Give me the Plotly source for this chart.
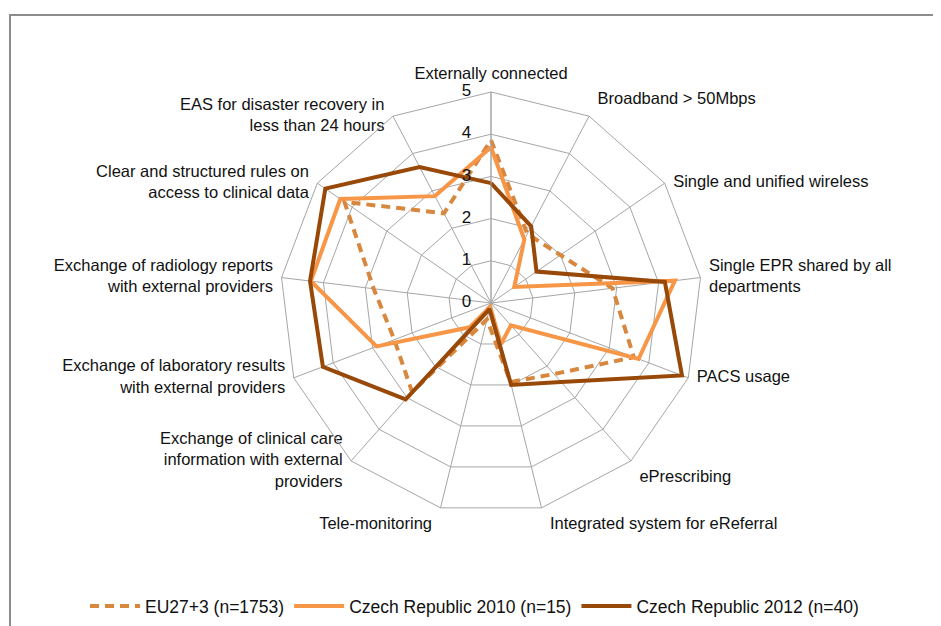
import plotly.graph_objects as go

categories = [
    "Externally connected",
    "Broadband > 50Mbps",
    "Single and unified wireless",
    "Single EPR shared by all<br>departments",
    "PACS usage",
    "ePrescribing",
    "Integrated system for eReferral",
    "Tele-monitoring",
    "Exchange of clinical care<br>information with external<br>providers",
    "Exchange of laboratory results<br>with external providers",
    "Exchange of radiology reports<br>with external providers",
    "Clear and structured rules on<br>access to clinical data",
    "EAS for disaster recovery in<br>less than 24 hours",
]

eu27 = [3.86, 1.85, 2.0, 2.9, 3.62, 2.25, 1.93, 0.4, 2.82, 2.45, 2.8, 4.22, 2.4]
cz2010 = [3.69, 1.7, 0.67, 4.39, 3.74, 0.71, 1.0, 0.1, 0.77, 2.9, 4.3, 4.34, 2.86]
cz2012 = [2.84, 2.05, 1.31, 4.15, 4.84, 2.5, 2.0, 0.15, 3.05, 4.26, 4.32, 4.77, 3.64]

series_names = ["EU27+3 (n=1753)", "Czech Republic 2010 (n=15)", "Czech Republic 2012 (n=40)"]
radial_ticks = [0, 1, 2, 3, 4, 5]
r_max = 5

label_positions = [
    "top center", "top right", "middle right", "middle right", "middle right",
    "bottom right", "bottom right", "bottom left", "middle left", "middle left",
    "middle left", "middle left", "middle left",
]

colors = ["#D8873F", "#F79646", "#984807"]
dashes = ["9px,6px", "solid", "solid"]

fig = go.Figure()
for name, vals, col, dash in zip(series_names, [eu27, cz2010, cz2012], colors, dashes):
    fig.add_trace(go.Scatterpolar(
        r=vals + vals[:1],
        theta=categories + categories[:1],
        mode="lines",
        name=name,
        line=dict(color=col, width=4, dash=dash),
    ))

# category labels around the outer ring
fig.add_trace(go.Scatterpolar(
    r=[r_max] * len(categories), theta=categories,
    mode="markers+text", text=categories, textposition=label_positions,
    marker=dict(size=12, opacity=0), cliponaxis=False,
    textfont=dict(family="Arial, Liberation Sans, sans-serif", size=16.5, color="#111111"),
    showlegend=False, hoverinfo="skip",
))

# radial tick labels, left of the vertical spoke (tiny epsilon so the 0 label is kept)
fig.add_trace(go.Scatterpolar(
    r=[max(t, 1e-3) for t in radial_ticks], theta=[categories[0]] * len(radial_ticks),
    mode="markers+text", text=[str(t) for t in radial_ticks], textposition="middle left",
    marker=dict(size=30, opacity=0), cliponaxis=False,
    textfont=dict(family="Arial, Liberation Sans, sans-serif", size=17, color="#111111"),
    showlegend=False, hoverinfo="skip",
))

# page has an 8px body margin; size figure to the remaining viewport
W, H = 933, 618
cx, cy, R = 483, 295, 211

fig.update_layout(
    width=W, height=H,
    margin=dict(l=0, r=0, t=0, b=0, autoexpand=False),
    paper_bgcolor="white",
    plot_bgcolor="white",
    font=dict(family="Arial, Liberation Sans, sans-serif", size=16, color="#111111"),
    polar=dict(
        domain=dict(x=[(cx - R) / W, (cx + R) / W], y=[(H - cy - R) / H, (H - cy + R) / H]),
        bgcolor="white",
        gridshape="linear",
        angularaxis=dict(
            rotation=90, direction="clockwise",
            gridcolor="#A6A6A6", linecolor="#A6A6A6", gridwidth=1, linewidth=1,
            showticklabels=False, ticks="",
        ),
        radialaxis=dict(
            range=[0, r_max], tickvals=radial_ticks, angle=90,
            gridcolor="#A6A6A6", linecolor="#A6A6A6", showline=True,
            showticklabels=False, ticks="",
        ),
    ),
    legend=dict(
        orientation="h", x=0.5, xanchor="center", y=(H - 598) / H, yanchor="middle",
        font=dict(size=17.5, color="#111111"), itemwidth=50,
    ),
    showlegend=True,
    shapes=[dict(
        type="rect", xref="paper", yref="paper",
        x0=2 / W, x1=1.02, y0=-0.02, y1=1 - 7 / H,
        line=dict(color="#8C8C8C", width=2), fillcolor="rgba(0,0,0,0)", layer="below",
    )],
)

fig.write_html("out.html")
